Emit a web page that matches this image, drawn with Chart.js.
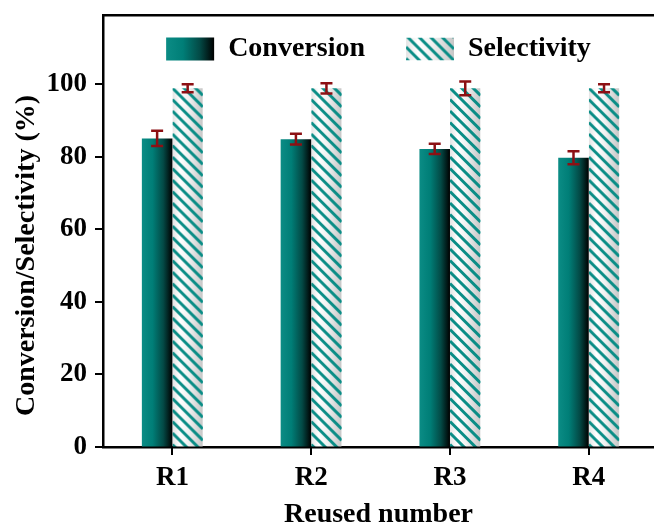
<!DOCTYPE html>
<html>
<head>
<meta charset="utf-8">
<script src="https://cdn.jsdelivr.net/npm/chart.js@4.4.1/dist/chart.umd.min.js"></script>
<style>
    html, body { margin: 0; padding: 0; background: #fff; overflow: hidden; }
    canvas { display: block; }
</style>
</head>
<body>
<canvas id="chart" width="654" height="526"></canvas>
<script>
// data
const categories = ['R1', 'R2', 'R3', 'R4'];
const seriesNames = ['Conversion', 'Selectivity'];
const conversion = [85.0, 84.8, 82.1, 79.7];
const conversionErr = [2.1, 1.5, 1.4, 1.8];
const selectivity = [98.8, 98.8, 98.8, 98.8];
const selectivityErr = [1.1, 1.4, 1.9, 1.1];
const yTickLabels = [0, 20, 40, 60, 80, 100];

const TEAL = '#00877f';
const ERR_COLOR = '#8c1014';
const CAT_PCT = 0.44;
const FONT = '"Liberation Serif", "Times New Roman", serif';

Chart.defaults.font.family = FONT;
Chart.defaults.font.weight = 'bold';
Chart.defaults.color = '#000';

// left edge + width of one bar, from the x scale
function barBox(chart, datasetIndex, dataIndex) {
    const xs = chart.scales.x;
    const step = xs.getPixelForValue(2) - xs.getPixelForValue(1);
    const w = step * CAT_PCT / 2;
    const center = xs.getPixelForValue(dataIndex + 1);
    return { left: center - step * CAT_PCT / 2 + datasetIndex * w, w: w };
}

function solidFill(ctx, left, w) {
    const g = ctx.createLinearGradient(left, 0, left + w, 0);
    g.addColorStop(0, '#0b8c85');
    g.addColorStop(0.35, '#007e77');
    g.addColorStop(0.7, '#034a46');
    g.addColorStop(1, '#000000');
    return g;
}

function hatchFill(ctx, left, top, w, h) {
    const off = document.createElement('canvas');
    off.width = Math.ceil(w);
    off.height = Math.ceil(h);
    const o = off.getContext('2d');
    const g = o.createLinearGradient(0, 0, w, 0);
    g.addColorStop(0, '#e4e4e4');
    g.addColorStop(0.25, '#ffffff');
    g.addColorStop(0.55, '#f0f0f0');
    g.addColorStop(1, '#c6c6c6');
    o.fillStyle = g;
    o.fillRect(0, 0, w, h);
    o.strokeStyle = '#0a8d86';
    o.lineWidth = 3;
    o.beginPath();
    for (let k = -w; k < h + w; k += 11.5) {
        o.moveTo(0, k);
        o.lineTo(w, k + w);
    }
    o.stroke();
    const p = ctx.createPattern(off, 'no-repeat');
    p.setTransform(new DOMMatrix([1, 0, 0, 1, left, top]));
    return p;
}

function barFill(c) {
    const chart = c.chart;
    if (!chart.chartArea || c.dataIndex === undefined) return TEAL;
    const b = barBox(chart, c.datasetIndex, c.dataIndex);
    if (c.datasetIndex === 0) return solidFill(chart.ctx, b.left, b.w);
    const a = chart.chartArea;
    return hatchFill(chart.ctx, b.left, a.top, b.w, a.bottom - a.top);
}

const errorBars = {
    id: 'errorBars',
    afterDatasetsDraw(chart) {
        const ctx = chart.ctx;
        const ys = chart.scales.y;
        ctx.save();
        ctx.strokeStyle = ERR_COLOR;
        ctx.lineWidth = 2.5;
        chart.data.datasets.forEach((ds, di) => {
            chart.getDatasetMeta(di).data.forEach((bar, i) => {
                const v = ds.data[i].y;
                const e = ds.errors[i];
                const y1 = ys.getPixelForValue(v + e);
                const y2 = ys.getPixelForValue(v - e);
                ctx.beginPath();
                ctx.moveTo(bar.x, y1); ctx.lineTo(bar.x, y2);
                ctx.moveTo(bar.x - 6, y1); ctx.lineTo(bar.x + 6, y1);
                ctx.moveTo(bar.x - 6, y2); ctx.lineTo(bar.x + 6, y2);
                ctx.stroke();
            });
        });
        ctx.restore();
    }
};

// outward major/minor tick marks
const tickMarks = {
    id: 'tickMarks',
    afterDraw(chart) {
        const ctx = chart.ctx;
        const a = chart.chartArea;
        ctx.save();
        ctx.strokeStyle = '#000';
        ctx.lineWidth = 2;
        ctx.beginPath();
        chart.scales.y.ticks.forEach(t => {
            if (t.value % 10 !== 0) return;
            const len = t.value % 20 === 0 ? 8 : 4;
            const p = Math.round(chart.scales.y.getPixelForValue(t.value));
            ctx.moveTo(a.left, p); ctx.lineTo(a.left - len, p);
        });
        chart.scales.x.ticks.forEach(t => {
            if (Math.abs(t.value * 2 - Math.round(t.value * 2)) > 1e-6) return;
            const len = Number.isInteger(t.value) ? 8 : 5;
            const p = Math.round(chart.scales.x.getPixelForValue(t.value));
            ctx.moveTo(p, a.bottom); ctx.lineTo(p, a.bottom + len);
        });
        ctx.stroke();
        ctx.restore();
    }
};

// legend sits inside the plot but is laid out in a row;
// swatches get the same fills as the bars
const legendFills = {
    id: 'legendFills',
    afterInit(chart) {
        if (chart.legend) chart.legend.isHorizontal = () => true;
    },
    afterLayout(chart) {
        const lg = chart.legend;
        const a = chart.chartArea;
        if (!lg || !a) return;
        lg.left = a.left;
        lg.right = a.right;
        lg.width = a.right - a.left;
        lg.top = a.top;
    },
    beforeDraw(chart) {
        const lg = chart.legend;
        if (!lg || !lg.legendHitBoxes) return;
        const opts = lg.options.labels;
        lg.legendItems.forEach((item, i) => {
            const hb = lg.legendHitBoxes[i];
            if (!hb) return;
            const top = hb.top + Math.max((opts.font.size - opts.boxHeight) / 2, 0);
            item.fillStyle = i === 0
                ? solidFill(chart.ctx, hb.left, opts.boxWidth)
                : hatchFill(chart.ctx, hb.left, top, opts.boxWidth, opts.boxHeight);
        });
    }
};

const axisBorder = { display: true, color: '#000', width: 2.5 };

new Chart(document.getElementById('chart'), {
    type: 'bar',
    data: {
        datasets: [
            {
                label: seriesNames[0],
                data: categories.map((c, i) => ({ x: i + 1, y: conversion[i] })),
                errors: conversionErr,
                backgroundColor: barFill,
                borderWidth: 0,
                categoryPercentage: CAT_PCT,
                barPercentage: 1
            },
            {
                label: seriesNames[1],
                data: categories.map((c, i) => ({ x: i + 1, y: selectivity[i] })),
                errors: selectivityErr,
                backgroundColor: barFill,
                borderWidth: 0,
                categoryPercentage: CAT_PCT,
                barPercentage: 1
            }
        ]
    },
    options: {
        responsive: false,
        animation: false,
        layout: { padding: 0 },
        plugins: {
            tooltip: { enabled: false },
            legend: {
                position: 'chartArea',
                align: 'center',
                labels: {
                    boxWidth: 48,
                    boxHeight: 23,
                    padding: 20,
                    font: { size: 28, weight: 'bold', family: FONT },
                    color: '#000',
                    generateLabels: () => seriesNames.map((n, i) => ({
                        text: i === 0 ? n + '   ' : n,
                        fillStyle: TEAL,
                        strokeStyle: 'rgba(0,0,0,0)',
                        lineWidth: 0,
                        hidden: false,
                        datasetIndex: i
                    }))
                }
            }
        },
        scales: {
            x: {
                type: 'linear',
                position: 'bottom',
                min: 0.5,
                max: 4.47,
                offset: false,
                grid: { display: true, offset: false, drawOnChartArea: false, drawTicks: false },
                border: axisBorder,
                ticks: {
                    stepSize: 0.5,
                    includeBounds: false,
                    autoSkip: false,
                    maxRotation: 0,
                    padding: 15,
                    font: { size: 27, weight: 'bold' },
                    callback: v => Number.isInteger(v) && categories[v - 1] ? categories[v - 1] : null
                },
                title: {
                    display: true,
                    text: 'Reused number',
                    font: { size: 28, weight: 'bold' },
                    padding: { top: 0, bottom: -6 }
                },
                afterFit: s => { s.height = 79; s.paddingLeft = 0; s.paddingRight = 0; }
            },
            xTop: {
                type: 'linear',
                position: 'top',
                min: 0,
                max: 1,
                grid: { display: true, drawOnChartArea: false, drawTicks: false },
                border: axisBorder,
                ticks: { display: false },
                afterFit: s => { s.height = 15; s.paddingLeft = 0; s.paddingRight = 0; }
            },
            y: {
                min: 0,
                max: 119,
                grid: { display: true, drawOnChartArea: false, drawTicks: false },
                border: axisBorder,
                ticks: {
                    stepSize: 10,
                    includeBounds: false,
                    padding: 16,
                    font: { size: 27, weight: 'bold' },
                    callback: v => yTickLabels.includes(v) ? String(v) : null
                },
                title: {
                    display: true,
                    text: 'Conversion/Selectivity (%)       ',
                    font: { size: 28, weight: 'bold' },
                    padding: { top: 10, bottom: 0 }
                },
                afterFit: s => { s.width = 103; s.paddingTop = 0; s.paddingBottom = 0; }
            }
        }
    },
    plugins: [legendFills, errorBars, tickMarks]
});
</script>
</body>
</html>
